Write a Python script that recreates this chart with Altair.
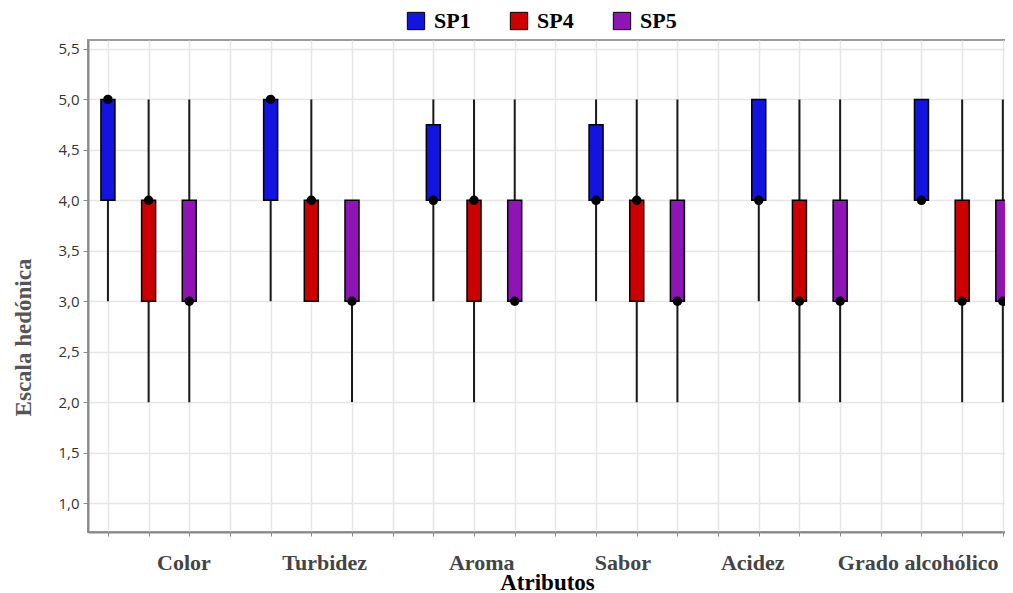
import altair as alt
import pandas as pd

attributes = ["Color", "Turbidez", "Aroma", "Sabor", "Acidez", "Grado alcohólico"]
samples = ["SP1", "SP4", "SP5"]
colors = ["#1414E0", "#CC0000", "#8E14B6"]

# values per sample, in the order of `attributes`
whisker_low = {
    "SP1": [3, 3, 3, 3, 3, 4],
    "SP4": [2, 3, 2, 2, 2, 2],
    "SP5": [2, 2, 3, 2, 2, 2],
}
box_low = {
    "SP1": [4, 4, 4, 4, 4, 4],
    "SP4": [3, 3, 3, 3, 3, 3],
    "SP5": [3, 3, 3, 3, 3, 3],
}
box_high = {
    "SP1": [5, 5, 4.75, 4.75, 5, 5],
    "SP4": [4, 4, 4, 4, 4, 4],
    "SP5": [4, 4, 4, 4, 4, 4],
}
whisker_high = {
    "SP1": [5, 5, 5, 5, 5, 5],
    "SP4": [5, 5, 5, 5, 5, 5],
    "SP5": [5, 4, 5, 5, 5, 5],
}
median = {
    "SP1": [5, 5, 4, 4, 4, 4],
    "SP4": [4, 4, 4, 4, 3, 3],
    "SP5": [3, 3, 3, 3, 3, 3],
}
y_ticks = [1.0, 1.5, 2.0, 2.5, 3.0, 3.5, 4.0, 4.5, 5.0, 5.5]
# slot where each attribute label is centred on the x axis
label_slot = [1.87, 5.33, 9.19, 12.66, 15.85, 19.92]

rows = []
for a_i, attr in enumerate(attributes):
    for s_i, s in enumerate(samples):
        rows.append({
            "Atributo": attr,
            "Muestra": s,
            "slot": a_i * 4 + s_i,
            "lo": whisker_low[s][a_i],
            "q1": box_low[s][a_i],
            "q3": box_high[s][a_i],
            "hi": whisker_high[s][a_i],
            "med": median[s][a_i],
        })
df = pd.DataFrame(rows)
labels_df = pd.DataFrame({"Atributo": attributes, "slot": label_slot})

n_slots = len(attributes) * 4 - 1
x_scale = alt.Scale(domain=[-0.49, 22.25], nice=False, zero=False, padding=0)
y_scale = alt.Scale(domain=[0.713, 5.589], nice=False, zero=False, padding=0)

x_axis = alt.Axis(
    values=list(range(n_slots)), labels=False, title="Atributos",
    titleFont="Liberation Serif", titleFontSize=23, titleFontWeight="bold",
    titleColor="#000000", titleX=459, titleY=57, titleAlign="center",
    titleBaseline="alphabetic", tickSize=4, tickColor="#8a8a8a",
    domainColor="#8a8a8a", domainWidth=2, gridColor="#e6e6e6", gridWidth=1.5,
)
y_axis = alt.Axis(
    values=y_ticks, labelExpr="replace(format(datum.value, '.1f'), '.', ',')",
    title="Escala hedónica", titleFont="Liberation Serif", titleFontSize=23,
    titleFontWeight="bold", titleColor="#555555", titleX=-65, titleY=297,
    titleAngle=270, titleAlign="center", titleBaseline="middle",
    labelFont="Open Sans", labelFontSize=15, labelColor="#333333",
    labelPadding=4, tickSize=5, tickColor="#8a8a8a",
    domainColor="#8a8a8a", domainWidth=2, gridColor="#e6e6e6", gridWidth=1.5,
)

base = alt.Chart(df)

whiskers = base.mark_rule(color="#1a1a1a", strokeWidth=2).encode(
    x=alt.X("slot:Q", scale=x_scale, axis=x_axis),
    y=alt.Y("lo:Q", scale=y_scale, axis=y_axis),
    y2="hi:Q",
)

boxes = base.mark_bar(size=14, stroke="black", strokeWidth=1.5).encode(
    x=alt.X("slot:Q", scale=x_scale),
    y=alt.Y("q1:Q", scale=y_scale),
    y2="q3:Q",
    color=alt.Color(
        "Muestra:N",
        scale=alt.Scale(domain=samples, range=colors),
        legend=alt.Legend(
            title=None, orient="none", legendX=317, legendY=-30,
            direction="horizontal", symbolType="square", symbolSize=300,
            symbolStrokeColor="black", symbolStrokeWidth=1, symbolOpacity=1,
            labelFont="Liberation Serif", labelFontSize=22,
            labelFontWeight="bold", labelColor="black", labelOffset=7,
            columnPadding=37, padding=0,
        ),
    ),
)

dots = base.mark_circle(size=90, color="black", opacity=1).encode(
    x=alt.X("slot:Q", scale=x_scale),
    y=alt.Y("med:Q", scale=y_scale),
)

cat_labels = alt.Chart(labels_df).mark_text(
    font="Liberation Serif", fontSize=22, fontWeight="bold", color="#444444",
    baseline="alphabetic", align="center",
).encode(
    x=alt.X("slot:Q", scale=x_scale),
    y=alt.value(530),
    text="Atributo:N",
)

chart = alt.layer(whiskers, boxes, dots, cat_labels).properties(
    width=925, height=492,
    autosize=alt.AutoSizeParams(type="none"),
    padding={"left": 80, "top": 32, "right": -8, "bottom": 63},
    background="white",
).configure_view(stroke="#9a9a9a", strokeWidth=2)

chart.save("out.html", embed_options={"renderer": "svg", "actions": False})
